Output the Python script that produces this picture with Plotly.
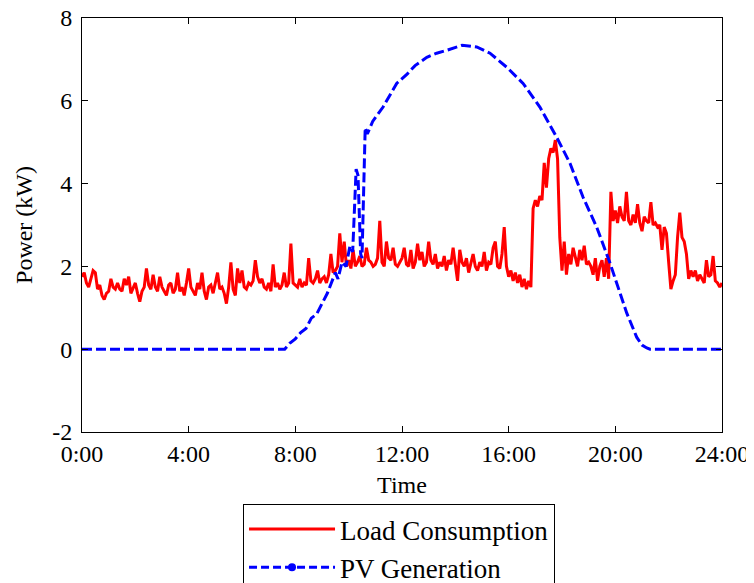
import plotly.graph_objects as go

# Load consumption, 5-minute resolution (kW), hour by hour
load_h00 = [1.75, 1.85, 1.6, 1.5, 1.7, 1.9, 1.85, 1.45, 1.55, 1.3, 1.2, 1.35]
load_h01 = [1.4, 1.7, 1.5, 1.45, 1.6, 1.45, 1.4, 1.7, 1.55, 1.75, 1.35, 1.5]
load_h02 = [1.6, 1.35, 1.15, 1.4, 1.5, 1.95, 1.55, 1.45, 1.8, 1.5, 1.4, 1.75]
load_h03 = [1.5, 1.4, 1.3, 1.55, 1.6, 1.35, 1.45, 1.85, 1.4, 1.5, 1.3, 1.6]
load_h04 = [1.95, 1.5, 1.4, 1.3, 1.6, 1.45, 1.85, 1.4, 1.2, 1.5, 1.55, 1.35]
load_h05 = [1.6, 1.85, 1.45, 1.5, 1.35, 1.1, 1.5, 2.1, 1.45, 1.3, 1.95, 1.6]
load_h06 = [1.9, 1.5, 1.45, 1.6, 1.55, 1.65, 2.15, 1.75, 1.6, 1.7, 1.5, 1.45]
load_h07 = [1.6, 1.4, 2.05, 1.5, 1.6, 1.45, 1.55, 1.85, 1.5, 1.6, 2.55, 1.6]
load_h08 = [1.55, 1.5, 1.7, 1.5, 1.6, 1.55, 2.2, 1.65, 1.6, 1.7, 1.9, 1.6]
load_h09 = [1.7, 1.75, 1.6, 1.8, 2.3, 1.85, 1.9, 2.0, 2.8, 2.1, 2.6, 2.0]
load_h10 = [2.15, 1.95, 2.4, 2.0, 2.1, 2.25, 2.0, 2.05, 2.45, 2.15, 2.1, 2.0]
load_h11 = [2.05, 2.2, 3.1, 2.1, 2.0, 2.6, 2.2, 2.15, 2.45, 2.05, 2.0, 2.1]
load_h12 = [2.2, 2.45, 2.05, 2.0, 2.4, 1.95, 2.1, 2.55, 2.15, 2.35, 2.0, 2.1]
load_h13 = [2.6, 2.15, 2.05, 2.3, 1.95, 2.1, 2.0, 2.25, 1.9, 2.15, 2.05, 2.45]
load_h14 = [2.0, 1.65, 2.4, 2.1, 2.0, 2.2, 1.85, 2.05, 2.3, 2.0, 1.9, 2.1]
load_h15 = [2.0, 2.35, 1.9, 2.1, 2.05, 2.45, 2.6, 2.0, 1.95, 2.3, 2.95, 2.0]
load_h16 = [1.75, 1.9, 1.65, 1.85, 1.6, 1.8, 1.5, 1.7, 1.45, 1.65, 1.5, 3.4]
load_h17 = [3.6, 3.45, 3.7, 3.6, 4.5, 3.9, 4.6, 4.85, 4.75, 5.05, 4.6, 2.7]
load_h18 = [1.9, 2.6, 1.8, 2.3, 2.05, 2.45, 2.2, 2.0, 2.4, 2.15, 2.5, 2.05]
load_h19 = [2.1, 2.0, 1.8, 2.2, 1.65, 2.0, 2.15, 1.75, 2.2, 1.7, 3.8, 3.1]
load_h20 = [3.35, 3.05, 3.45, 3.2, 3.1, 3.8, 3.1, 3.0, 3.25, 3.05, 3.5, 3.05]
load_h21 = [2.85, 3.2, 3.1, 3.05, 3.55, 3.0, 3.05, 2.95, 3.0, 2.4, 2.95, 2.8]
load_h22 = [2.1, 1.45, 1.65, 1.8, 2.7, 3.3, 2.7, 2.6, 2.3, 1.7, 1.9, 1.75]
load_h23 = [1.9, 1.65, 1.8, 1.7, 1.6, 2.15, 1.75, 1.8, 2.25, 1.65, 1.6, 1.5]
load_end = [1.6]

load_kw = (load_h00 + load_h01 + load_h02 + load_h03 + load_h04 + load_h05 +
           load_h06 + load_h07 + load_h08 + load_h09 + load_h10 + load_h11 +
           load_h12 + load_h13 + load_h14 + load_h15 + load_h16 + load_h17 +
           load_h18 + load_h19 + load_h20 + load_h21 + load_h22 + load_h23 + load_end)
load_hours = [i * 5 / 60 for i in range(len(load_kw))]

# PV generation (kW) at read-off times (hours)
pv_hours = [0.0, 7.6, 7.8, 8.0, 8.2, 8.4, 8.6, 8.8, 9.0, 9.2, 9.35, 9.5, 9.6,
            9.75, 9.9, 10.05, 10.15, 10.28, 10.35, 10.45, 10.5, 10.62, 10.7,
            10.9, 11.29, 11.8, 12.2, 12.49, 12.93, 13.3, 13.68, 14.25, 14.8,
            15.3, 15.93, 16.54, 17.17, 17.8, 18.3, 18.79, 19.3, 19.8, 20.18,
            20.43, 20.8, 21.0, 21.18, 21.3, 24.0]
pv_kw = [0.0, 0.0, 0.15, 0.25, 0.4, 0.5, 0.75, 0.85, 1.1, 1.35, 1.6, 1.85, 1.7,
         2.1, 2.0, 2.5, 2.35, 4.35, 4.2, 2.3, 2.2, 5.35, 5.2,
         5.5, 5.85, 6.42, 6.65, 6.85, 7.05, 7.15, 7.22, 7.34, 7.3,
         7.15, 6.81, 6.42, 5.85, 5.12, 4.49, 3.67, 2.95, 2.08, 1.35,
         0.87, 0.29, 0.1, 0.03, 0.0, 0.0]

x_tick_vals = [0, 4, 8, 12, 16, 20, 24]
x_tick_text = ["0:00", "4:00", "8:00", "12:00", "16:00", "20:00", "24:00"]
y_tick_vals = [-2, 0, 2, 4, 6, 8]
y_tick_text = ["-2", "0", "2", "4", "6", "8"]

FONT = "Liberation Serif"

fig = go.Figure()
fig.add_trace(go.Scatter(x=load_hours, y=load_kw, mode="lines", name="Load Consumption",
                         line=dict(color="#ff0000", width=3)))
fig.add_trace(go.Scatter(x=pv_hours, y=pv_kw, mode="lines", name="PV Generation",
                         showlegend=False,
                         line=dict(color="#0000ff", width=3, dash="10px,4px")))
fig.add_trace(go.Scatter(x=[None], y=[None], mode="lines+markers", name="PV Generation",
                         line=dict(color="#0000ff", width=3, dash="8px,4px"),
                         marker=dict(color="#0000ff", size=8)))

axis_common = dict(showline=True, linecolor="black", linewidth=1, mirror="ticks",
                   ticks="inside", ticklen=6, tickcolor="black", showgrid=False,
                   zeroline=False, ticklabeloverflow="allow",
                   tickfont=dict(family=FONT, size=24, color="black"))

fig.update_xaxes(range=[0, 24], tickvals=x_tick_vals, ticktext=x_tick_text,
                 title=dict(text="Time", font=dict(family=FONT, size=24, color="black"), standoff=10),
                 ticklabelstandoff=0, **axis_common)
fig.update_yaxes(range=[-2, 8], tickvals=y_tick_vals, ticktext=y_tick_text,
                 title=dict(text="Power (kW)", font=dict(family=FONT, size=24, color="black"), standoff=12),
                 ticklabelstandoff=4, **axis_common)

# the page places the figure 8px from its top-left corner
fig.update_layout(
    width=746, height=575,
    margin=dict(l=74, r=32, t=10, b=151, autoexpand=False),
    plot_bgcolor="white", paper_bgcolor="white",
    font=dict(family=FONT, color="black"),
    legend=dict(x=0.2516, y=-0.174, xanchor="left", yanchor="top",
                bgcolor="white", bordercolor="black", borderwidth=1,
                font=dict(family=FONT, size=27, color="black"),
                itemwidth=86, tracegroupgap=0),
)

fig.write_html("out.html")
